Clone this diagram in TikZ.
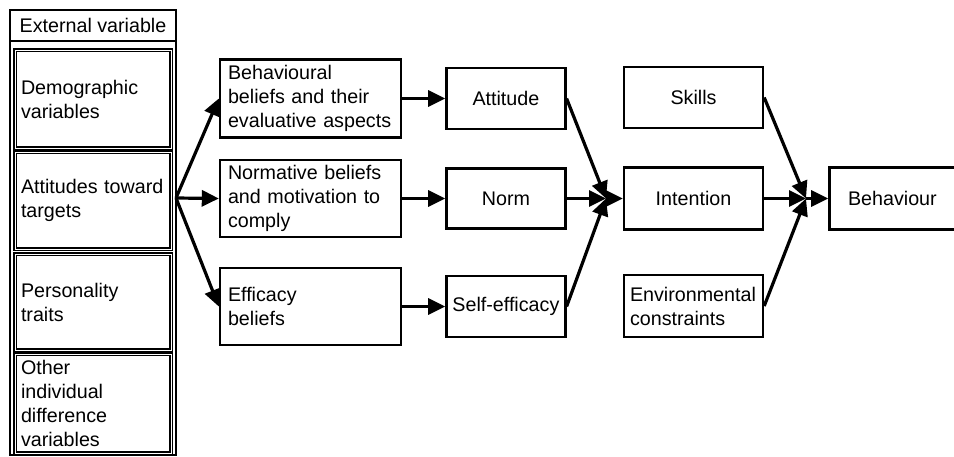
\documentclass[tikz,border=0pt]{standalone}
\usepackage{fontspec}
\setmainfont{Liberation Sans}
\usepackage{tikz}
\usetikzlibrary{arrows.meta}
\usetikzlibrary{positioning}

\begin{document}
\begin{tikzpicture}[x=1pt,y=-1pt,
    box/.style={draw,line width=2.4pt,inner sep=0pt,align=center,font=\fontsize{19.7}{24}\selectfont},
    lbox/.style={box,align=left,inner xsep=#1},
    dbox/.style={lbox=6pt,double,line width=1.3pt,double distance=0.9pt,text width=144pt},
    link/.style={-{Triangle[length=17pt,width=16pt]},line width=3.2pt}]
      \useasboundingbox (0,0) rectangle (954,456);
      \node[draw,line width=2pt,inner sep=0pt,minimum width=166pt,minimum height=445pt] (column) at (93,232.5) {};
      \node[box,line width=2pt,minimum width=166pt,minimum height=31pt] (external) at (93,25.5) {External variable};
      \node[dbox,minimum height=98pt] (demographic) at (93,99) {Demographic\\variables};
      \node[dbox,minimum height=97pt] (targets) at (93,200.5) {Attitudes toward\\targets};
      \node[dbox,minimum height=96pt] (personality) at (93,302) {Personality\\traits};
      \node[dbox,minimum height=99pt] (other) at (93,403.5) {Other\\individual\\difference\\variables};
      \coordinate (fan) at (176,198);
      \node[lbox=8pt,text width=165pt,minimum height=78pt] (behBeliefs) at (310.5,98.5) {Behavioural\\beliefs and their\\evaluative aspects};
      \node[lbox=8pt,text width=165pt,minimum height=77pt] (normBeliefs) at (310.5,198.5) {Normative beliefs\\and motivation to\\comply};
      \node[lbox=8pt,text width=165pt,minimum height=77pt] (effBeliefs) at (310.5,306.5) {Efficacy\\beliefs};
      \node[box,minimum width=119pt,minimum height=61pt,right=43pt of behBeliefs] (attitude) {Attitude};
      \node[box,minimum width=119pt,minimum height=60pt,right=43pt of normBeliefs] (norm) {Norm};
      \node[box,minimum width=119pt,minimum height=61pt,right=43pt of effBeliefs] (selfEfficacy) {Self-efficacy};
      \coordinate (join1) at (606,198.5);
      \node[box,minimum width=139pt,minimum height=61pt] (skills) at (693.5,97.5) {Skills};
      \node[box,minimum width=139pt,minimum height=62pt] (intention) at (693.5,198.5) {Intention};
      \node[lbox=6pt,text width=127pt,minimum height=62pt] (environment) at (693.5,306) {Environmental\\constraints};
      \coordinate (join2) at (806,198.5);
      \node[box,minimum width=126pt,minimum height=62pt,right=64pt of intention] (behaviour) {Behaviour};
      \draw[link] (fan) -- (behBeliefs.west);
      \draw[link] (fan) -- (normBeliefs.west);
      \draw[link] (fan) -- (effBeliefs.west);
      \draw[link] (behBeliefs) -- (attitude);
      \draw[link] (normBeliefs) -- (norm);
      \draw[link] (effBeliefs) -- (selfEfficacy);
      \draw[link] (attitude.east) -- (join1);
      \draw[link] (norm.east) -- (join1);
      \draw[link] (selfEfficacy.east) -- (join1);
      \draw[link] (join1) -- (intention.west);
      \draw[link] (skills.east) -- (join2);
      \draw[link] (intention.east) -- (join2);
      \draw[link] (environment.east) -- (join2);
      \draw[link] (join2) -- (behaviour.west);
    \end{tikzpicture}
\end{document}
